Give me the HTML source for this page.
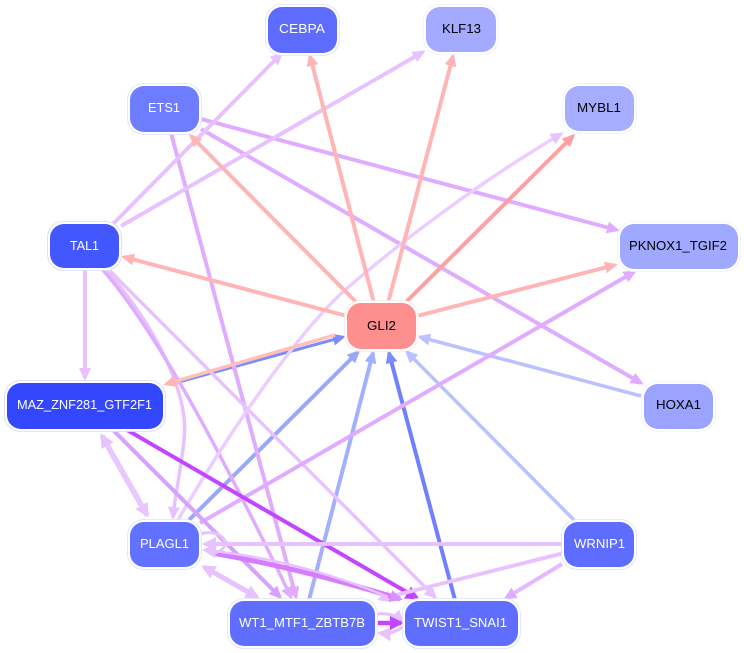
<!DOCTYPE html>
<html>
<head>
<meta charset="utf-8">
<style>
html,body{margin:0;padding:0;background:#fff;width:744px;height:653px;overflow:hidden}
svg{display:block}
text{font-family:"Liberation Sans",sans-serif;font-size:13px}
.e{fill:none;stroke-linecap:butt}
.o{fill:#fff;stroke-width:0.8}
</style>
</head>
<body>
<svg width="744" height="653" viewBox="0 0 744 653" xmlns="http://www.w3.org/2000/svg">
<defs>
<marker id="s" markerUnits="userSpaceOnUse" markerWidth="18" markerHeight="16" refX="10" refY="6" orient="auto"><path d="M0 0L13 6L0 12z" fill="#ffb5b5"/></marker>
<marker id="r" markerUnits="userSpaceOnUse" markerWidth="18" markerHeight="16" refX="10" refY="6" orient="auto"><path d="M0 0L13 6L0 12z" fill="#ff9f9f"/></marker>
<marker id="l" markerUnits="userSpaceOnUse" markerWidth="18" markerHeight="16" refX="10" refY="6" orient="auto"><path d="M0 0L13 6L0 12z" fill="#e8c2ff"/></marker>
<marker id="L" markerUnits="userSpaceOnUse" markerWidth="18" markerHeight="16" refX="11" refY="7" orient="auto"><path d="M0 0L14 7L0 14z" fill="#e8c2ff"/></marker>
<marker id="p" markerUnits="userSpaceOnUse" markerWidth="18" markerHeight="16" refX="10" refY="6" orient="auto"><path d="M0 0L13 6L0 12z" fill="#e0acff"/></marker>
<marker id="q" markerUnits="userSpaceOnUse" markerWidth="18" markerHeight="16" refX="10" refY="6" orient="auto"><path d="M0 0L13 6L0 12z" fill="#d8a0ff"/></marker>
<marker id="d" markerUnits="userSpaceOnUse" markerWidth="18" markerHeight="16" refX="11" refY="7" orient="auto"><path d="M0 0L14 7L0 14z" fill="#c445ff"/></marker>
<marker id="b1" markerUnits="userSpaceOnUse" markerWidth="18" markerHeight="16" refX="10" refY="6" orient="auto"><path d="M0 0L13 6L0 12z" fill="#7b8cff"/></marker>
<marker id="b2" markerUnits="userSpaceOnUse" markerWidth="18" markerHeight="16" refX="10" refY="6" orient="auto"><path d="M0 0L13 6L0 12z" fill="#9aa8f8"/></marker>
<marker id="b3" markerUnits="userSpaceOnUse" markerWidth="18" markerHeight="16" refX="10" refY="6" orient="auto"><path d="M0 0L13 6L0 12z" fill="#b9c2ff"/></marker>
<marker id="b4" markerUnits="userSpaceOnUse" markerWidth="18" markerHeight="16" refX="10" refY="6" orient="auto"><path d="M0 0L13 6L0 12z" fill="#a3b0ff"/></marker>
<marker id="m" markerUnits="userSpaceOnUse" markerWidth="18" markerHeight="16" refX="10" refY="6" orient="auto"><path d="M0 0L13 6L0 12z" fill="#d890ff"/></marker>
</defs>

<!-- blue to GLI2 -->
<path class="e" d="M175 383L343 337" stroke="#7b8cff" stroke-width="3" marker-end="url(#b1)"/>
<path class="e" d="M189 520L358 352" stroke="#9aa8f8" stroke-width="4" marker-end="url(#b2)"/>
<path class="e" d="M309 600L373 353" stroke="#a3b0ff" stroke-width="4" marker-end="url(#b4)"/>
<path class="e" d="M455 600L389 353" stroke="#7080ff" stroke-width="4" marker-end="url(#b1)"/>
<path class="e" d="M575 521L407 352" stroke="#b9c2ff" stroke-width="3.5" marker-end="url(#b3)"/>
<path class="e" d="M641 396L420 337" stroke="#b9c2ff" stroke-width="3.5" marker-end="url(#b3)"/>

<!-- purple -->
<path class="e" d="M201 119L617 230" stroke="#e0acff" stroke-width="4" marker-end="url(#p)"/>
<path class="e" d="M201 129L641 383" stroke="#e0acff" stroke-width="4" marker-end="url(#p)"/>
<path class="e" d="M171 133L296 597" stroke="#e0acff" stroke-width="4" marker-end="url(#p)"/>
<path class="e" d="M113 224L281 54" stroke="#e8c2ff" stroke-width="4" marker-end="url(#l)"/>
<path class="e" d="M121 226L423 52" stroke="#e8c2ff" stroke-width="4" marker-end="url(#l)"/>
<path class="e" d="M85 270L85 378" stroke="#e8c2ff" stroke-width="4" marker-end="url(#l)"/>
<path class="e" d="M107 271C150 320 190 390 184 440C181 470 175 495 173 517" stroke="#e8c2ff" stroke-width="3.5" marker-end="url(#l)"/>
<path class="e" d="M103 270C155 330 215 440 291 597" stroke="#e0acff" stroke-width="3.5" marker-end="url(#p)"/>
<path class="e" d="M110 271L435 597" stroke="#e8c2ff" stroke-width="3.5" marker-end="url(#l)"/>
<path class="e" d="M178 520C230 430 300 330 345 290C420 225 500 170 561 134" stroke="#ebcdff" stroke-width="3.5" marker-end="url(#l)"/>
<path class="e" d="M200 523L634 272" stroke="#e0acff" stroke-width="4" marker-end="url(#p)"/>
<path class="e" d="M113 430L280 597" stroke="#d8a0ff" stroke-width="4" marker-end="url(#q)"/>
<path class="e" d="M127 430L417 598" stroke="#c445ff" stroke-width="4" marker-end="url(#d)"/>
<path class="e" d="M102 436L147 515" stroke="#e8c8ff" stroke-width="5.5" marker-end="url(#L)"/>
<path class="e" d="M147 515L102 436" stroke="#e8c8ff" stroke-width="5.5" marker-end="url(#L)"/>
<path class="e" d="M564 544L205 544" stroke="#e8c2ff" stroke-width="4" marker-end="url(#L)"/>
<path class="e" d="M564 553L380 599" stroke="#e8c2ff" stroke-width="4" marker-end="url(#l)"/>
<path class="e" d="M562 564L506 598" stroke="#e8b8ff" stroke-width="4" marker-end="url(#p)"/>
<path class="e" d="M212 553Q300 568 400 599" stroke="#d67cff" stroke-width="5" marker-end="url(#m)"/>
<path class="e" d="M388 597Q300 560 205 550" stroke="#e8c2ff" stroke-width="2.5" marker-end="url(#L)"/>
<path class="e" d="M200 534C214 530 225 536 225 543C225 550 218 553 210 553" stroke="#e8c2ff" stroke-width="3"/>
<path class="e" d="M204 567L257 597" stroke="#e8c2ff" stroke-width="5" marker-end="url(#L)"/>
<path class="e" d="M257 597L204 567" stroke="#e8c2ff" stroke-width="5" marker-end="url(#L)"/>
<path class="e" d="M376 614C388 613 396 615 402 621" stroke="#e8c2ff" stroke-width="3" marker-end="url(#l)"/>
<path class="e" d="M403 627C396 632 388 634 380 633" stroke="#e8c2ff" stroke-width="3" marker-end="url(#L)"/>
<path class="e" d="M376 623L401 623" stroke="#c445ff" stroke-width="4.5" marker-end="url(#d)"/>

<!-- salmon from GLI2 -->
<path class="e" d="M358 304L191 136" stroke="#ffb5b5" stroke-width="4" marker-end="url(#s)"/>
<path class="e" d="M374 303L310 56" stroke="#ffb5b5" stroke-width="4" marker-end="url(#s)"/>
<path class="e" d="M388 303L453 56" stroke="#ffb5b5" stroke-width="4" marker-end="url(#s)"/>
<path class="e" d="M405 303L573 136" stroke="#ff9f9f" stroke-width="4" marker-end="url(#r)"/>
<path class="e" d="M347 316L124 257" stroke="#ffb5b5" stroke-width="4" marker-end="url(#s)"/>
<path class="e" d="M417 316L615 265" stroke="#ffb5b5" stroke-width="4" marker-end="url(#s)"/>
<path class="e" d="M335 335L166 384" stroke="#ffc0b8" stroke-width="3.5" marker-end="url(#s)"/>

<!-- nodes -->
<g>
<rect class="o" x="265.5" y="4.5" width="74" height="51" rx="16" stroke="#dde1ff"/><rect x="268" y="7" width="69" height="46" rx="14" fill="#5d6cff"/>
<text x="279" y="33" fill="#fff" textLength="46" lengthAdjust="spacingAndGlyphs">CEBPA</text>
<rect class="o" x="423.5" y="4.5" width="75" height="50" rx="16" stroke="#eff0ff"/><rect x="426" y="7" width="70" height="45" rx="14" fill="#a3aaff"/>
<text x="442" y="33" fill="#000" textLength="39" lengthAdjust="spacingAndGlyphs">KLF13</text>
<rect class="o" x="127.5" y="83.5" width="74" height="51" rx="16" stroke="#dde1ff"/><rect x="130" y="86" width="69" height="46" rx="14" fill="#6e7dff"/>
<text x="148" y="112" fill="#fff" textLength="32" lengthAdjust="spacingAndGlyphs">ETS1</text>
<rect class="o" x="562.5" y="83.5" width="74" height="50" rx="16" stroke="#eff0ff"/><rect x="565" y="86" width="69" height="45" rx="14" fill="#a6adff"/>
<text x="577" y="112" fill="#000" textLength="44" lengthAdjust="spacingAndGlyphs">MYBL1</text>
<rect class="o" x="47.5" y="221.5" width="74" height="49" rx="16" stroke="#d5daff"/><rect x="50" y="224" width="69" height="44" rx="14" fill="#4357ff"/>
<text x="70" y="250" fill="#fff" textLength="29" lengthAdjust="spacingAndGlyphs">TAL1</text>
<rect class="o" x="617.5" y="221.5" width="123" height="50" rx="16" stroke="#eff0ff"/><rect x="620" y="224" width="118" height="45" rx="14" fill="#9fa9ff"/>
<text x="629" y="250" fill="#000" textLength="98" lengthAdjust="spacingAndGlyphs">PKNOX1_TGIF2</text>
<rect class="o" x="344.5" y="300.5" width="74" height="51" rx="16" stroke="#ffe8e8"/><rect x="347" y="303" width="69" height="46" rx="14" fill="#ff8e8e"/>
<text x="367" y="330" fill="#000" textLength="29" lengthAdjust="spacingAndGlyphs">GLI2</text>
<rect class="o" x="4.5" y="380.5" width="161" height="51" rx="16" stroke="#d5daff"/><rect x="7" y="383" width="156" height="46" rx="14" fill="#3347ff"/>
<text x="17" y="409" fill="#fff" textLength="135" lengthAdjust="spacingAndGlyphs">MAZ_ZNF281_GTF2F1</text>
<rect class="o" x="641.5" y="381.5" width="74" height="50" rx="16" stroke="#eff0ff"/><rect x="644" y="384" width="69" height="45" rx="14" fill="#9aa3ff"/>
<text x="656" y="409" fill="#000" textLength="45" lengthAdjust="spacingAndGlyphs">HOXA1</text>
<rect class="o" x="127.5" y="519.5" width="74" height="50" rx="16" stroke="#dde1ff"/><rect x="130" y="522" width="69" height="45" rx="14" fill="#6271ff"/>
<text x="140" y="548" fill="#fff" textLength="49" lengthAdjust="spacingAndGlyphs">PLAGL1</text>
<rect class="o" x="561.5" y="519.5" width="75" height="50" rx="16" stroke="#dde1ff"/><rect x="564" y="522" width="70" height="45" rx="14" fill="#5f6dff"/>
<text x="574" y="548" fill="#fff" textLength="51" lengthAdjust="spacingAndGlyphs">WRNIP1</text>
<rect class="o" x="227.5" y="598.5" width="150" height="50" rx="16" stroke="#dde1ff"/><rect x="230" y="601" width="145" height="45" rx="14" fill="#5f6eff"/>
<text x="239" y="627" fill="#fff" textLength="126" lengthAdjust="spacingAndGlyphs">WT1_MTF1_ZBTB7B</text>
<rect class="o" x="402.5" y="598.5" width="118" height="50" rx="16" stroke="#dde1ff"/><rect x="405" y="601" width="113" height="45" rx="14" fill="#5f6eff"/>
<text x="414" y="627" fill="#fff" textLength="93" lengthAdjust="spacingAndGlyphs">TWIST1_SNAI1</text>
</g>
</svg>
</body>
</html>
